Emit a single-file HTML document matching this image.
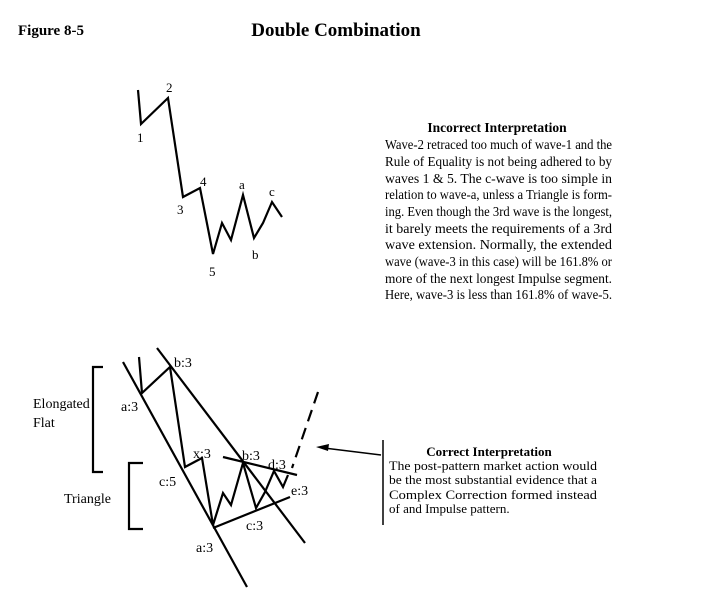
<!DOCTYPE html>
<html><head><meta charset="utf-8"><style>
html,body{margin:0;padding:0;background:#fff;}
svg{display:block;}
text{font-family:"Liberation Serif",serif;fill:#000;}
</style></head><body>
<svg width="707" height="603" viewBox="0 0 707 603" xmlns="http://www.w3.org/2000/svg">
<text x="18" y="35" font-size="15" font-weight="bold">Figure 8-5</text>
<text x="336" y="36" font-size="19" font-weight="bold" text-anchor="middle">Double Combination</text>

<g fill="none" stroke="#000" stroke-width="2.2" stroke-linejoin="miter">
<polyline points="138,90 141,124 168,98 183,197 200,188 213,254 222,223 231,240 243,195 254,238 263,223 272,202 282,217"/>
</g>
<g font-size="13">
<text x="166" y="92">2</text>
<text x="137" y="142">1</text>
<text x="177" y="214">3</text>
<text x="200" y="186">4</text>
<text x="239" y="189">a</text>
<text x="269" y="196">c</text>
<text x="252" y="259">b</text>
<text x="209" y="276">5</text>
</g>

<g font-size="13.5">
<text x="497" y="132" text-anchor="middle" font-weight="bold">Incorrect Interpretation</text>
<text x="385" y="149" textLength="227" lengthAdjust="spacingAndGlyphs">Wave-2 retraced too much of wave-1 and the</text>
<text x="385" y="166" textLength="227" lengthAdjust="spacingAndGlyphs">Rule of Equality is not being adhered to by</text>
<text x="385" y="183" textLength="227" lengthAdjust="spacingAndGlyphs">waves 1 &amp; 5.  The c-wave is too simple in</text>
<text x="385" y="199" textLength="227" lengthAdjust="spacingAndGlyphs">relation to wave-a, unless a Triangle is form-</text>
<text x="385" y="216" textLength="227" lengthAdjust="spacingAndGlyphs">ing.  Even though the 3rd wave is the longest,</text>
<text x="385" y="233" textLength="227" lengthAdjust="spacingAndGlyphs">it barely meets the requirements of a 3rd</text>
<text x="385" y="249" textLength="227" lengthAdjust="spacingAndGlyphs">wave extension.  Normally, the extended</text>
<text x="385" y="266" textLength="227" lengthAdjust="spacingAndGlyphs">wave (wave-3 in this case) will be 161.8% or</text>
<text x="385" y="283" textLength="227" lengthAdjust="spacingAndGlyphs">more of the next longest Impulse segment.</text>
<text x="385" y="299" textLength="227" lengthAdjust="spacingAndGlyphs">Here, wave-3 is less than 161.8% of wave-5.</text>
</g>

<g fill="none" stroke="#000" stroke-width="2.2">
<line x1="123" y1="362" x2="247" y2="587"/>
<line x1="157" y1="348" x2="305" y2="543"/>
<polyline points="139,357 142,393 170,367 185,467 202,458 213,525 223,493 231,505 243,463 256,508 265,492 274,471 283,487 288,475"/>
<line x1="223" y1="457" x2="297" y2="475"/>
<line x1="213" y1="528" x2="290" y2="497"/>
<line x1="318" y1="392" x2="292" y2="468" stroke-dasharray="12,7"/>
<polyline points="103,367 93,367 93,472 103,472"/>
<polyline points="143,463 129,463 129,529 143,529"/>
<line x1="383" y1="440" x2="383" y2="525" stroke-width="1.5"/>
<line x1="381" y1="455" x2="324" y2="448" stroke-width="1.5"/>
</g>
<polygon points="316,447 329,444 328,451" fill="#000"/>

<g font-size="14">
<text x="174" y="367">b:3</text>
<text x="121" y="411">a:3</text>
<text x="33" y="408">Elongated</text>
<text x="33" y="427">Flat</text>
<text x="193" y="458">x:3</text>
<text x="159" y="486">c:5</text>
<text x="64" y="503">Triangle</text>
<text x="242" y="460">b:3</text>
<text x="268" y="469">d:3</text>
<text x="291" y="495">e:3</text>
<text x="246" y="530">c:3</text>
<text x="196" y="552">a:3</text>
</g>

<g font-size="13">
<text x="489" y="456" text-anchor="middle" font-weight="bold">Correct Interpretation</text>
<text x="389" y="470" textLength="208" lengthAdjust="spacingAndGlyphs">The post-pattern market action would</text>
<text x="389" y="484" textLength="208" lengthAdjust="spacingAndGlyphs">be the most substantial evidence that a</text>
<text x="389" y="499" textLength="208" lengthAdjust="spacingAndGlyphs">Complex Correction formed instead</text>
<text x="389" y="513">of and Impulse pattern.</text>
</g>
</svg>
</body></html>
